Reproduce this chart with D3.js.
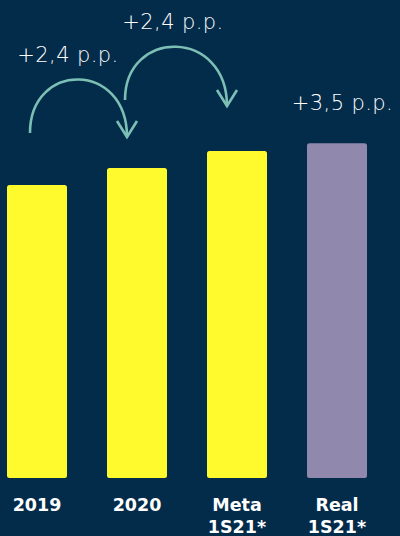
<!DOCTYPE html>
<html><head><meta charset="utf-8">
<script src="https://cdn.jsdelivr.net/npm/d3@7"></script>
<style>html,body{margin:0;padding:0;background:#032b4a;overflow:hidden}</style>
</head><body>
<svg id="c" width="400" height="536"></svg>
<script>
const categories = [["2019"], ["2020"], ["Meta", "1S21*"], ["Real", "1S21*"]];
const values = [41.4, 43.8, 46.2, 47.3];
const barColors = ["#fffa2e", "#fffa2e", "#fffa2e", "#9189ad"];
const annotLabels = ["+2,4 p.p.", "+2,4 p.p.", "+3,5 p.p."];
const arrows = [[0, 1], [1, 2]];

const W = 400, H = 536;
const svg = d3.select("#c");
svg.append("rect").attr("width", W).attr("height", H).attr("fill", "#032b4a");

const x = d3.scaleBand().domain(d3.range(values.length)).range([-13, 387]).paddingInner(0.4).paddingOuter(0.2);
const base = 478;
const y = d3.scaleLinear().domain([0, 41.4]).range([base, 185]);

svg.selectAll("rect.bar").data(values).join("rect")
  .attr("class", "bar")
  .attr("x", (d, i) => x(i))
  .attr("width", x.bandwidth())
  .attr("y", d => y(d))
  .attr("height", d => base - y(d))
  .attr("rx", 2.5)
  .attr("fill", (d, i) => barColors[i]);

// category labels
const lab = svg.selectAll("text.cat").data(categories).join("text")
  .attr("class", "cat")
  .attr("x", (d, i) => x(i) + x.bandwidth() / 2)
  .attr("y", 511)
  .attr("text-anchor", "middle")
  .attr("fill", "#ffffff")
  .attr("font-family", "DejaVu Sans")
  .attr("font-weight", "bold")
  .attr("font-size", 17.5);
lab.selectAll("tspan").data(d => d).join("tspan")
  .attr("x", function () { return d3.select(this.parentNode).attr("x"); })
  .attr("dy", (d, j) => j === 0 ? 0 : 22)
  .text(d => d);

// arrows
const arrowColor = "#7cbfb4";
const arrowGeo = [
  {sx: -7, sy: 133, ey: 137, cy: 61},
  {sx: -12, sy: 100, ey: 106, cy: 28}
];
arrows.forEach(([a, b], k) => {
  const g = arrowGeo[k];
  const x0 = x(a) + x.bandwidth() / 2 + g.sx;
  const x1 = x(b) + x.bandwidth() / 2 - 10;
  svg.append("path")
    .attr("d", `M${x0},${g.sy} C${x0},${g.cy} ${x1},${g.cy} ${x1},${g.ey}`)
    .attr("fill", "none").attr("stroke", arrowColor).attr("stroke-width", 2.6);
  svg.append("path")
    .attr("d", `M${x1 - 10},${g.ey - 16} L${x1},${g.ey} L${x1 + 10},${g.ey - 16}`)
    .attr("fill", "none").attr("stroke", arrowColor).attr("stroke-width", 2.6)
    .attr("stroke-linejoin", "miter");
});

// annotation texts
const annotPos = [{x: 68, y: 62}, {x: 173, y: 29}, {x: 342.5, y: 110}];
svg.selectAll("text.ann").data(annotLabels).join("text")
  .attr("class", "ann")
  .attr("x", (d, i) => annotPos[i].x)
  .attr("y", (d, i) => annotPos[i].y)
  .attr("text-anchor", "middle")
  .attr("fill", "#ffffff")
  .attr("font-family", "DejaVu Sans")
  .attr("font-weight", 200)
  .attr("font-size", 21)
  .attr("letter-spacing", 0.4)
  .text(d => d);
</script>
</body></html>
